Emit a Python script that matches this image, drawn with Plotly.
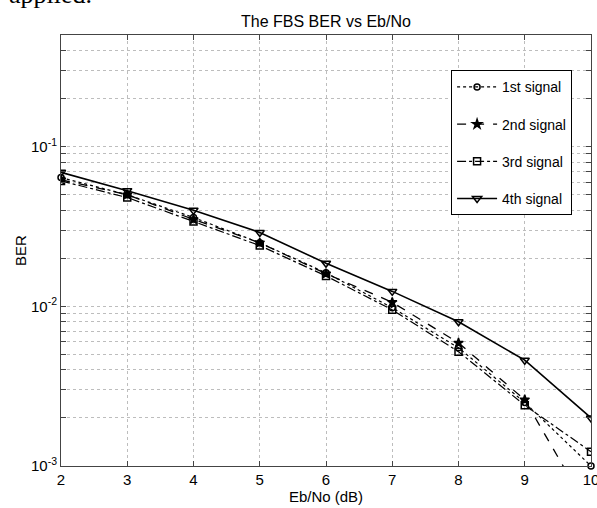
import plotly.graph_objects as go

ebno = [2, 3, 4, 5, 6, 7, 8, 9, 10]
ber_1st = [0.064, 0.050, 0.036, 0.025, 0.0162, 0.0098, 0.0055, 0.0025, 0.0010]
ber_2nd = [0.062, 0.050, 0.035, 0.025, 0.0160, 0.0106, 0.0059, 0.0026, 0.0005]
ber_3rd = [0.061, 0.048, 0.034, 0.024, 0.0155, 0.0095, 0.0052, 0.0024, 0.00123]
ber_4th = [0.069, 0.053, 0.040, 0.029, 0.0186, 0.0124, 0.0080, 0.0046, 0.0020]

series_names = ["1st signal", "2nd signal", "3rd signal", "4th signal"]
x_ticks = [2, 3, 4, 5, 6, 7, 8, 9, 10]
decades = [-3, -2, -1]
y_top = 0.5

FONT = "Liberation Sans, Arial, Helvetica, sans-serif"

fig = go.Figure()

styles = [
    dict(dash="dot", symbol="circle-open", size=6, width=1.2, clip=False),
    dict(dash="dash", symbol="star", size=7, width=1.3, clip=True),
    dict(dash="dashdot", symbol="square-open", size=7, width=1.2, clip=True),
    dict(dash="solid", symbol="triangle-down-open", size=8, width=1.6, clip=True),
]
for name, ys, st in zip(series_names, [ber_1st, ber_2nd, ber_3rd, ber_4th], styles):
    fig.add_trace(go.Scatter(
        x=ebno, y=ys, name=name, mode="lines+markers",
        legendgroup=name,
        cliponaxis=st["clip"],
        line=dict(color="black", dash=st["dash"], width=st["width"]),
        marker=dict(symbol=st["symbol"], size=st["size"], color="black",
                    line=dict(color="black", width=1.5)),
    ))

# log ticks (every 1..9 multiple), labels only on decades
yvals, ytext = [], []
for d in decades:
    for m in range(1, 10):
        v = m * 10 ** d
        if v <= y_top + 1e-12:
            yvals.append(v)
            ytext.append(f"10<sup>{d}</sup>" if m == 1 else "")

axis_common = dict(
    showline=True, linecolor="#444", linewidth=1, mirror="ticks",
    ticks="inside", ticklen=5, tickcolor="#444",
    showgrid=True, gridcolor="#bdbdbd", griddash="dot", gridwidth=1,
    zeroline=False, automargin=False, ticklabeloverflow="allow",
    tickfont=dict(family=FONT, size=15, color="black"),
)

fig.update_layout(
    template="none",
    width=597, height=508,
    margin=dict(l=61, r=6, t=35, b=42),
    paper_bgcolor="white", plot_bgcolor="white",
    title=dict(text="The FBS BER vs Eb/No", x=0.546, xanchor="center",
               y=1 - 21 / 508, yanchor="middle",
               font=dict(family=FONT, size=16, color="black")),
    xaxis=dict(range=[2, 10], tickvals=x_ticks,
               title=dict(text="Eb/No (dB)", standoff=4,
                          font=dict(family=FONT, size=15, color="black")),
               **axis_common),
    yaxis=dict(type="log", range=[-3, 0.30103 - 0.602],
               tickvals=yvals, ticktext=ytext,
               title=dict(text="BER", standoff=0,
                          font=dict(family=FONT, size=15, color="black")),
               **axis_common),
    legend=dict(x=0.736, y=0.918, xanchor="left", yanchor="top",
                bgcolor="white", bordercolor="black", borderwidth=1,
                font=dict(family=FONT, size=14, color="black"),
                traceorder="grouped", tracegroupgap=16,
                itemwidth=40),
    showlegend=True,
)

fig.add_annotation(
    text="applied.", xref="paper", yref="paper", x=-0.102, y=1,
    xanchor="left", yanchor="bottom", yshift=24, showarrow=False,
    font=dict(family="Liberation Serif, Times New Roman, serif", size=26, color="black"),
)

fig.write_html("out.html", config={"displayModeBar": False})

# remove the default page margin so the figure sits at the window's corner
with open("out.html", "r", encoding="utf-8") as f:
    html = f.read()
html = html.replace(
    "<head>",
    "<head><style>html,body{margin:0;padding:0;overflow:hidden;}</style>",
    1,
)
with open("out.html", "w", encoding="utf-8") as f:
    f.write(html)
